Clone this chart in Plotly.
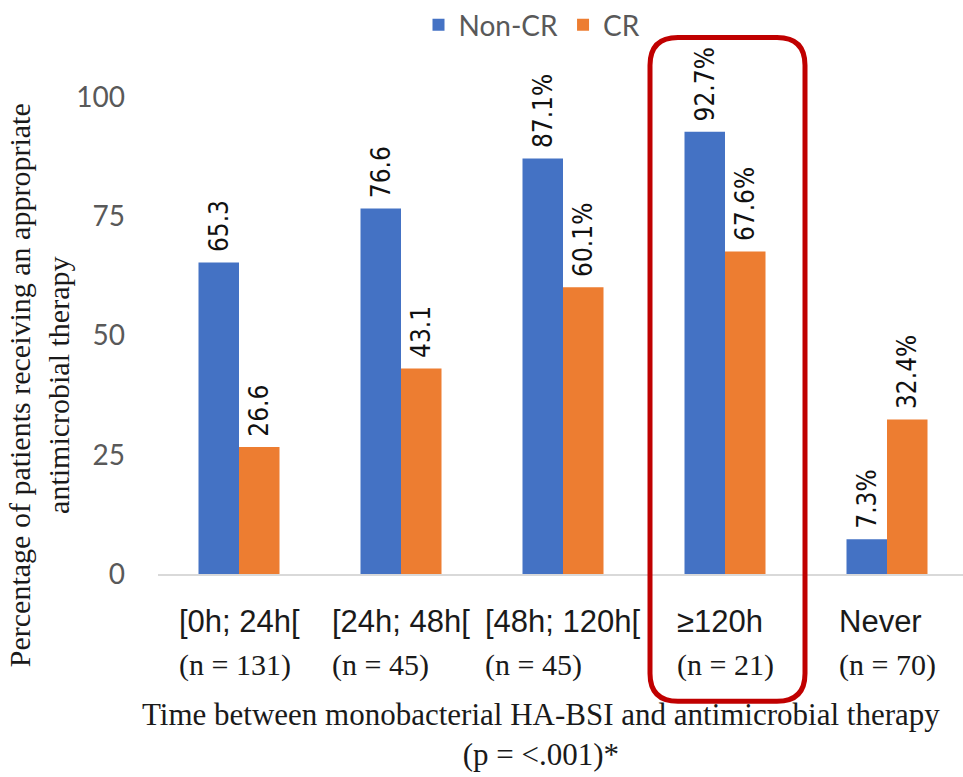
import plotly.graph_objects as go

# ---- data -------------------------------------------------------------
categories = ["[0h; 24h[", "[24h; 48h[", "[48h; 120h[", "\u2265120h", "Never"]
n_labels = ["(n = 131)", "(n = 45)", "(n = 45)", "(n = 21)", "(n = 70)"]
non_cr = [65.3, 76.6, 87.1, 92.7, 7.3]
cr = [26.6, 43.1, 60.1, 67.6, 32.4]
non_cr_suffix = ["", "", "%", "%", "%"]
cr_suffix = ["", "", "%", "%", "%"]
y_ticks = [0, 25, 50, 75, 100]

# ---- geometry helpers (figure pixels -> paper coords) -----------------
W, H = 963, 777
ML, MR, MT, MB = 158, 0, 94, 203
PW, PH = W - ML - MR, H - MT - MB


def px_x(p):
    return (p - ML) / PW


def px_y(p):
    return (H - MB - p) / PH


SANS = "Lato, 'Open Sans', 'Liberation Sans', sans-serif"
NARROW = "'Liberation Sans Narrow', 'DejaVu Sans Condensed', 'Liberation Sans', sans-serif"
SERIF = "'Liberation Serif', 'DejaVu Serif', serif"
PAD = "\u00a0"  # small gap between bar end and its rotated value label


def bar_labels(values, suffixes):
    return [f"{PAD}{v}{s}" for v, s in zip(values, suffixes)]


fig = go.Figure()
fig.add_trace(go.Bar(
    name="Non-CR", x=categories, y=non_cr,
    marker=dict(color="#4472C4", line=dict(width=0)),
    text=bar_labels(non_cr, non_cr_suffix),
    textposition="outside", textangle=-90, cliponaxis=False,
    constraintext="none",
    textfont=dict(family=NARROW, size=26, color="#111111"),
))
fig.add_trace(go.Bar(
    name="CR", x=categories, y=cr,
    marker=dict(color="#ED7D31", line=dict(width=0)),
    text=bar_labels(cr, cr_suffix),
    textposition="outside", textangle=-90, cliponaxis=False,
    constraintext="none",
    textfont=dict(family=NARROW, size=26, color="#111111"),
))

annotations = []
# category labels with sample sizes underneath, left-aligned as a block
for cat, n in zip(categories, n_labels):
    annotations.append(dict(
        x=cat, xref="x", y=px_y(602), yref="paper",
        xanchor="center", yanchor="top", align="left", showarrow=False,
        text=(f"<span style='font-family:Liberation Sans;font-size:31px'>{cat}</span><br>"
              f"<span style='font-family:Liberation Serif;font-size:30px'>{n}</span>"),
        font=dict(family=SANS, size=33, color="#1a1a1a"),
    ))

# axis titles
annotations.append(dict(
    x=px_x(541), xref="paper", y=px_y(736), yref="paper",
    xanchor="center", yanchor="middle", showarrow=False, align="center",
    text="Time between monobacterial HA-BSI and antimicrobial therapy<br>(p = <.001)*",
    font=dict(family=SERIF, size=31, color="#1a1a1a"),
))
annotations.append(dict(
    x=px_x(39), xref="paper", y=px_y(384), yref="paper",
    xanchor="center", yanchor="middle", showarrow=False, align="center",
    textangle=-90,
    text="Percentage of patients receiving an appropriate<br>antimicrobial therapy",
    font=dict(family=SERIF, size=30, color="#1a1a1a"),
))

# rounded highlight frame around the >=120h group
x0, x1 = px_x(650), px_x(805)
yt, yb = px_y(34), px_y(702)
rx, ry = 28 / PW, 28 / PH
frame = (f"M {x0+rx},{yt} L {x1-rx},{yt} Q {x1},{yt} {x1},{yt-ry} "
         f"L {x1},{yb+ry} Q {x1},{yb} {x1-rx},{yb} "
         f"L {x0+rx},{yb} Q {x0},{yb} {x0},{yb+ry} "
         f"L {x0},{yt-ry} Q {x0},{yt} {x0+rx},{yt} Z")

fig.update_layout(
    width=W, height=H,
    margin=dict(l=ML, r=MR, t=MT, b=MB, pad=0),
    paper_bgcolor="white", plot_bgcolor="white",
    barmode="group", bargap=0.5, bargroupgap=0,
    showlegend=True,
    legend=dict(
        orientation="h", x=px_x(532), y=px_y(21),
        xanchor="center", yanchor="middle",
        font=dict(family=SANS, size=28, color="#595959"),
        itemsizing="constant", traceorder="normal",
        bgcolor="rgba(0,0,0,0)",
    ),
    xaxis=dict(
        type="category", range=[-0.5, 4.5 - 5 / 162],
        showticklabels=False, ticks="", showgrid=False, zeroline=False,
        showline=True, linecolor="#d9d9d9", linewidth=2,
    ),
    yaxis=dict(
        range=[0, 100], tickvals=y_ticks, ticktext=[str(t) for t in y_ticks],
        showgrid=False, zeroline=False, showline=False, ticks="",
        tickfont=dict(family=SANS, size=28, color="#595959"),
        ticklabelstandoff=32,
    ),
    annotations=annotations,
    shapes=[dict(type="path", xref="paper", yref="paper", path=frame,
                 line=dict(color="#C00000", width=5), fillcolor="rgba(0,0,0,0)",
                 layer="above")],
)

fig.write_html("out.html")
